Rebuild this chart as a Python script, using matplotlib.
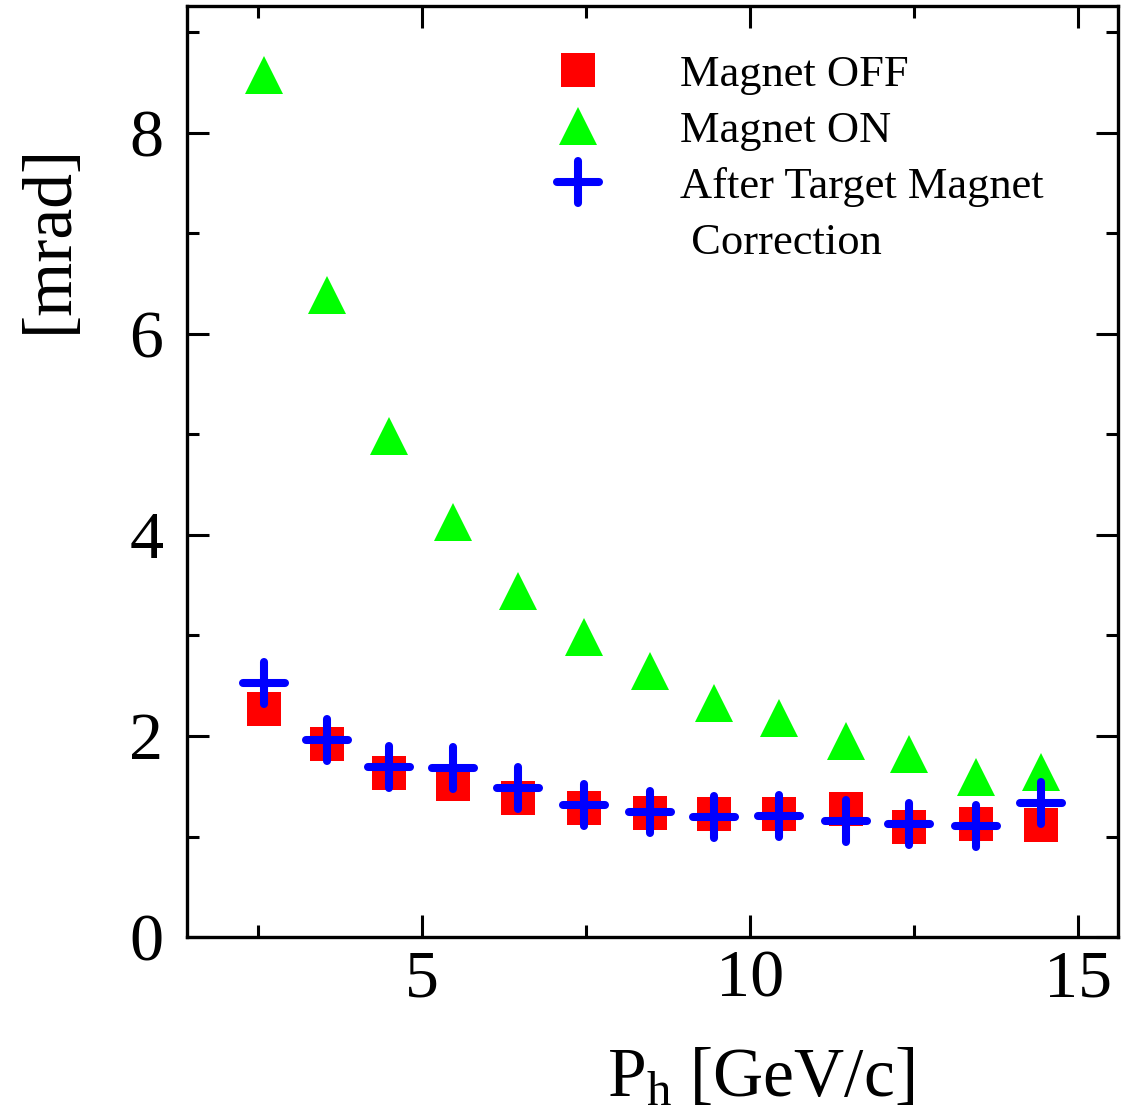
import matplotlib
matplotlib.use('Agg')
import matplotlib.pyplot as plt
import matplotlib.ticker as ticker
from matplotlib.markers import MarkerStyle

plt.rcParams['font.family'] = 'serif'
plt.rcParams['font.serif'] = ['Liberation Serif', 'DejaVu Serif']
plt.rcParams['mathtext.fontset'] = 'custom'
plt.rcParams['mathtext.rm'] = 'Liberation Serif'
plt.rcParams['mathtext.it'] = 'Liberation Serif:italic'

# momentum bins [GeV/c]
p_h = [2.6, 3.55, 4.5, 5.48, 6.47, 7.47, 8.47, 9.46, 10.45, 11.46, 12.43, 13.44, 14.43]

# resolution [mrad]
magnet_off = [2.27, 1.92, 1.63, 1.52, 1.38, 1.28, 1.23, 1.22, 1.22, 1.27, 1.09, 1.12, 1.11]
magnet_on = [8.57, 6.39, 4.98, 4.13, 3.44, 2.98, 2.65, 2.33, 2.18, 1.95, 1.82, 1.59, 1.64]
after_corr = [2.53, 1.96, 1.69, 1.68, 1.48, 1.31, 1.24, 1.19, 1.20, 1.15, 1.12, 1.10, 1.33]

fig = plt.figure(figsize=(11.22, 11.19), dpi=100)
ax = fig.add_axes([0.1667, 0.1626, 0.8297, 0.832])

ax.plot(p_h, magnet_off, linestyle='none', marker='s', markersize=24,
        color='#ff0000', markeredgewidth=0, label='Magnet OFF')
ax.plot(p_h, magnet_on, linestyle='none', marker='^', markersize=28,
        color='#00ff00', markeredgewidth=0, label='Magnet ON')
plus = MarkerStyle('+', capstyle='round')
ax.plot(p_h, after_corr, linestyle='none', marker=plus, markersize=30,
        markeredgewidth=5.8, color='#0000ff', label='After Target Magnet')
# second line of the last legend entry, no marker
ax.plot([], [], linestyle='none', marker=None, label=' Correction')

ax.set_xlim(1.42, 15.61)
ax.set_ylim(0, 9.26)

ax.xaxis.set_major_locator(ticker.MultipleLocator(5))
ax.xaxis.set_minor_locator(ticker.MultipleLocator(2.5))
ax.yaxis.set_major_locator(ticker.MultipleLocator(2))
ax.yaxis.set_minor_locator(ticker.MultipleLocator(1))

for s in ax.spines.values():
    s.set_linewidth(2.4)
ax.tick_params(which='both', direction='in', top=True, right=True, width=2.2)
ax.tick_params(which='major', length=16, labelsize=49)
ax.tick_params(which='minor', length=8.5)
ax.tick_params(axis='y', which='major', pad=17)
ax.tick_params(axis='x', which='major', pad=9)

ax.set_xlabel(r'P$_\mathrm{h}$ [GeV/c]', fontsize=50)
ax.set_ylabel('[mrad]', fontsize=50)
ax.xaxis.set_label_coords(0.6165, -0.119)
ax.yaxis.set_label_coords(-0.113, 0.75)

ax.legend(loc='upper left', bbox_to_anchor=(0.396, 0.948), frameon=False,
          fontsize=32, numpoints=1, handlelength=1.0, handletextpad=1.8,
          labelspacing=0.36, borderpad=0, borderaxespad=0)

fig.savefig('out.png', dpi=100)
